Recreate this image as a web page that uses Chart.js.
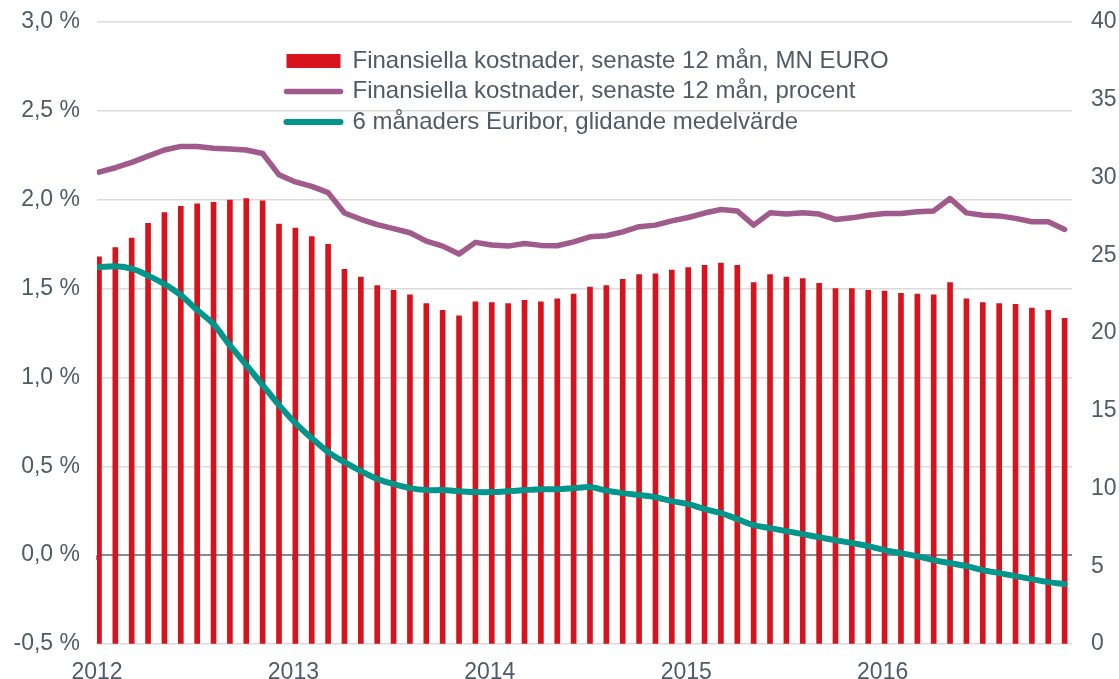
<!DOCTYPE html>
<html>
<head>
<meta charset="utf-8">
<script src="https://cdn.jsdelivr.net/npm/chart.js@4/dist/chart.umd.min.js"></script>
<style>html,body{margin:0;padding:0;background:#fff;overflow:hidden}canvas{display:block}</style>
</head>
<body>
<canvas id="c" width="1119" height="679"></canvas>
<script>
// ---- data ----
const years = ['2012', '2013', '2014', '2015', '2016'];
const months = [
  '2012-01','2012-02','2012-03','2012-04','2012-05','2012-06','2012-07','2012-08','2012-09','2012-10','2012-11','2012-12',
  '2013-01','2013-02','2013-03','2013-04','2013-05','2013-06','2013-07','2013-08','2013-09','2013-10','2013-11','2013-12',
  '2014-01','2014-02','2014-03','2014-04','2014-05','2014-06','2014-07','2014-08','2014-09','2014-10','2014-11','2014-12',
  '2015-01','2015-02','2015-03','2015-04','2015-05','2015-06','2015-07','2015-08','2015-09','2015-10','2015-11','2015-12',
  '2016-01','2016-02','2016-03','2016-04','2016-05','2016-06','2016-07','2016-08','2016-09','2016-10','2016-11','2016-12'
];
// Finansiella kostnader, senaste 12 mån, MN EURO (right axis)
const costMEUR = [
  24.9, 25.5, 26.1, 27.05, 27.75, 28.15, 28.3, 28.4, 28.55, 28.65, 28.5, 27.0,
  26.75, 26.2, 25.7, 24.1, 23.6, 23.05, 22.75, 22.45, 21.9, 21.45, 21.1, 22.0,
  21.95, 21.9, 22.1, 22.0, 22.2, 22.5, 22.95, 23.05, 23.45, 23.75, 23.8, 24.05,
  24.2, 24.35, 24.5, 24.35, 23.25, 23.75, 23.6, 23.5, 23.2, 22.85, 22.85, 22.75,
  22.7, 22.55, 22.5, 22.45, 23.25, 22.2, 21.95, 21.9, 21.85, 21.6, 21.45, 20.95
];
// Finansiella kostnader, senaste 12 mån, procent (left axis)
const costPct = [
  2.155, 2.18, 2.21, 2.245, 2.28, 2.30, 2.30, 2.29, 2.285, 2.28, 2.26, 2.14,
  2.10, 2.075, 2.04, 1.925, 1.89, 1.86, 1.837, 1.814, 1.767, 1.739, 1.694, 1.76,
  1.745, 1.739, 1.754, 1.743, 1.741, 1.763, 1.791, 1.797, 1.819, 1.848, 1.857, 1.881,
  1.90, 1.925, 1.945, 1.937, 1.857, 1.926, 1.919, 1.926, 1.919, 1.889, 1.898, 1.913,
  1.923, 1.923, 1.932, 1.937, 2.007, 1.926, 1.913, 1.909, 1.895, 1.876, 1.876, 1.833
];
// 6 månaders Euribor, glidande medelvärde (left axis)
const euribor = [
  1.62, 1.626, 1.612, 1.573, 1.525, 1.463, 1.379, 1.30, 1.18, 1.07, 0.957, 0.844,
  0.743, 0.658, 0.58, 0.523, 0.473, 0.428, 0.40, 0.377, 0.366, 0.366, 0.36, 0.355,
  0.355, 0.36, 0.366, 0.371, 0.371, 0.377, 0.383, 0.363, 0.349, 0.338, 0.326, 0.304,
  0.287, 0.259, 0.236, 0.203, 0.169, 0.152, 0.135, 0.118, 0.101, 0.084, 0.068, 0.051,
  0.028, 0.011, -0.006, -0.028, -0.045, -0.062, -0.084, -0.101, -0.118, -0.135, -0.152, -0.163
];
const seriesNames = [
  'Finansiella kostnader, senaste 12 mån, MN EURO',
  'Finansiella kostnader, senaste 12 mån, procent',
  '6 månaders Euribor, glidande medelvärde'
];

// ---- styles ----
const RED = '#D7141E', PURPLE = '#A05A8B', TEAL = '#00968C';
const TEXT = '#4F5B66', GRID = '#DADADA', ZERO = '#7F8F99';
const CLEAR = 'rgba(0,0,0,0)';
const FONT = "'Liberation Sans', Arial, sans-serif";
const xMin = -0.12, xMax = 59.45;

const pts = arr => arr.map((v, i) => ({ x: i, y: v }));

const zeroTicks = {
  id: 'zeroTicks',
  beforeDatasetsDraw(chart) {
    const { ctx, scales: { x, y } } = chart;
    const y0 = y.getPixelForValue(0);
    ctx.save();
    ctx.strokeStyle = ZERO; ctx.lineWidth = 2;
    x.ticks.forEach(t => {
      const px = Math.round(x.getPixelForValue(t.value));
      ctx.beginPath(); ctx.moveTo(px, y0); ctx.lineTo(px, y0 + 5); ctx.stroke();
    });
    ctx.restore();
  }
};
const legendPlace = {
  id: 'legendPlace',
  afterLayout(chart) {
    const lg = chart.legend;
    if (!lg) return;
    lg.left = 280; lg.right = lg.left + lg.width;
    lg.top = 42.5; lg.bottom = 679;
  }
};

new Chart(document.getElementById('c'), {
  data: {
    datasets: [
      { type: 'bar', label: seriesNames[0], data: pts(costMEUR), yAxisID: 'y1', order: 3,
        backgroundColor: RED, borderWidth: 0, barThickness: 5 },
      { type: 'line', label: seriesNames[1], data: pts(costPct), yAxisID: 'y', order: 2,
        borderColor: PURPLE, backgroundColor: PURPLE, borderWidth: 5.5, pointRadius: 0,
        borderJoinStyle: 'round', borderCapStyle: 'round', tension: 0 },
      { type: 'line', label: seriesNames[2], data: pts(euribor), yAxisID: 'y', order: 1,
        borderColor: TEAL, backgroundColor: TEAL, borderWidth: 6, pointRadius: 0,
        borderJoinStyle: 'round', borderCapStyle: 'round', tension: 0.3 }
    ]
  },
  options: {
    responsive: false,
    animation: false,
    devicePixelRatio: 1,
    layout: { padding: { left: 0, right: 0, top: 22, bottom: 0 } },
    plugins: {
      tooltip: { enabled: false },
      legend: {
        position: 'chartArea',
        align: 'start',
        labels: {
          usePointStyle: true,
          pointStyleWidth: 54,
          boxHeight: 14,
          padding: 6.5,
          color: TEXT,
          font: { family: FONT, size: 24 },
          generateLabels: () => [
            { text: seriesNames[0], fillStyle: RED, strokeStyle: RED, lineWidth: 0, pointStyle: 'rect', fontColor: TEXT, datasetIndex: 0 },
            { text: seriesNames[1], fillStyle: PURPLE, strokeStyle: PURPLE, lineWidth: 5.5, lineCap: 'round', pointStyle: 'line', fontColor: TEXT, datasetIndex: 1 },
            { text: seriesNames[2], fillStyle: TEAL, strokeStyle: TEAL, lineWidth: 6, lineCap: 'round', pointStyle: 'line', fontColor: TEXT, datasetIndex: 2 }
          ]
        }
      }
    },
    scales: {
      x: {
        type: 'linear', min: xMin, max: xMax, offset: false,
        grid: { display: false, offset: false },
        border: { display: false },
        afterBuildTicks: s => { s.ticks = years.map((yr, k) => ({ value: xMin + 12 * k })); },
        afterFit: s => { s.height = 35; },
        ticks: {
          autoSkip: false, maxRotation: 0, padding: 7,
          color: TEXT, font: { family: FONT, size: 23 },
          callback: (v, i) => years[i]
        }
      },
      y: {
        position: 'left', min: -0.5, max: 3.0,
        border: { display: false },
        afterFit: s => { s.width = 97; },
        grid: {
          drawTicks: true, tickLength: 17, tickColor: CLEAR,
          color: c => Math.abs(c.tick.value) < 1e-9 ? ZERO : GRID,
          lineWidth: c => Math.abs(c.tick.value) < 1e-9 ? 2 : 1.5
        },
        ticks: {
          stepSize: 0.5, padding: 0, color: TEXT, font: { family: FONT, size: 23 },
          callback: v => v.toFixed(1).replace('.', ',') + ' %'
        }
      },
      y1: {
        position: 'right', min: 0, max: 40,
        border: { display: false },
        afterFit: s => { s.width = 47; },
        grid: { display: true, drawOnChartArea: false, drawTicks: true, tickLength: 19, tickColor: CLEAR, color: CLEAR },
        ticks: { stepSize: 5, padding: 0, color: TEXT, font: { family: FONT, size: 23 } }
      }
    }
  },
  plugins: [zeroTicks, legendPlace]
});
</script>
</body>
</html>
